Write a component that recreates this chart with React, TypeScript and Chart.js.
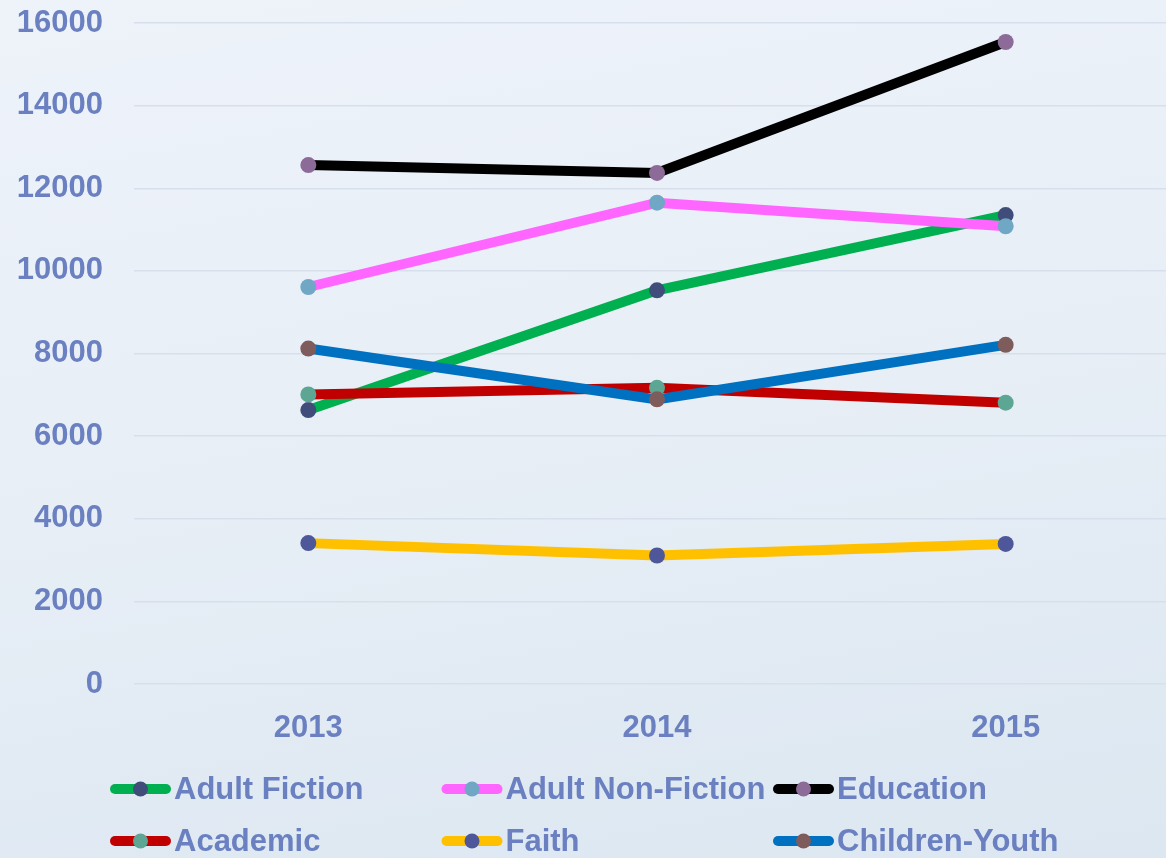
import React, { useEffect, useRef } from "react";
import { Chart, registerables } from "chart.js";

Chart.register(...registerables);

const years = ["2013", "2014", "2015"];
const seriesNames = ["Adult Fiction", "Adult Non-Fiction", "Education", "Academic", "Faith", "Children-Youth"];
const adultFiction = [6630, 9530, 11350];
const adultNonFiction = [9610, 11650, 11080];
const education = [12560, 12370, 15540];
const academic = [7010, 7170, 6810];
const faith = [3410, 3110, 3390];
const childrenYouth = [8120, 6890, 8210];
const seriesValues = [adultFiction, adultNonFiction, education, academic, faith, childrenYouth];
const lineColors = ["#00B050", "#FF66FF", "#000000", "#C00000", "#FFC000", "#0070C0"];
const pointColors = ["#404D7B", "#6FA7C5", "#8D6B98", "#5EA694", "#4E5799", "#7E5C5C"];
const yTickValues = [0, 2000, 4000, 6000, 8000, 10000, 12000, 14000, 16000];

const TEXT_COLOR = "#6B80C1";
const FONT_FAMILY = "'Liberation Sans', Arial, sans-serif";

const legendPlugin = {
  id: "gridLegend",
  afterDraw(chart: any) {
    const ctx = chart.ctx;
    ctx.save();
    chart.data.datasets.forEach((ds: any, i: number) => {
      const col = i % 3;
      const row = Math.floor(i / 3);
      const x = 110 + col * 331.5;
      const y = 789 + row * 52;
      ctx.lineCap = "round";
      ctx.lineWidth = 10;
      ctx.strokeStyle = ds.borderColor;
      ctx.beginPath();
      ctx.moveTo(x + 5, y);
      ctx.lineTo(x + 56, y);
      ctx.stroke();
      ctx.fillStyle = ds.pointBackgroundColor;
      ctx.beginPath();
      ctx.arc(x + 30.5, y, 7.5, 0, Math.PI * 2);
      ctx.fill();
      ctx.fillStyle = TEXT_COLOR;
      ctx.font = `bold 31px ${FONT_FAMILY}`;
      ctx.textAlign = "left";
      ctx.textBaseline = "middle";
      ctx.fillText(ds.label, x + 64, y + 1);
    });
    ctx.restore();
  },
};

export default function App() {
  const canvasRef = useRef<HTMLCanvasElement | null>(null);

  useEffect(() => {
    if (!canvasRef.current) return;
    const chart = new Chart(canvasRef.current, {
      type: "line",
      data: {
        labels: years,
        datasets: seriesNames.map((name, i) => ({
          label: name,
          data: seriesValues[i],
          borderColor: lineColors[i],
          backgroundColor: lineColors[i],
          pointBackgroundColor: pointColors[i],
          pointBorderWidth: 0,
          pointRadius: 8,
          pointHoverRadius: 8,
          borderWidth: 10,
          tension: 0,
          fill: false,
          order: 6 - i,
        })),
      },
      options: {
        responsive: false,
        animation: false,
        devicePixelRatio: 1,
        layout: { padding: { top: 23, left: 0, right: 0, bottom: 0 } },
        plugins: {
          legend: { display: false },
          tooltip: { enabled: false },
        },
        scales: {
          x: {
            offset: true,
            grid: { display: false, drawTicks: false },
            border: { display: false },
            ticks: {
              color: TEXT_COLOR,
              font: { family: FONT_FAMILY, size: 31, weight: "bold" },
              padding: 26,
            },
            afterFit: (scale: any) => {
              scale.height = 858 - 684;
              scale.paddingLeft = 0;
              scale.paddingRight = 0;
            },
          },
          y: {
            min: 0,
            max: 16000,
            afterBuildTicks: (scale: any) => {
              scale.ticks = yTickValues.map((v) => ({ value: v }));
            },
            grid: { color: "#D8DFEC", lineWidth: 1.5, drawTicks: false },
            border: { display: false },
            ticks: {
              color: TEXT_COLOR,
              font: { family: FONT_FAMILY, size: 31, weight: "bold" },
              padding: 31,
              callback: (v: any) => String(v),
            },
            afterFit: (scale: any) => {
              scale.width = 134;
              scale.paddingTop = 0;
              scale.paddingBottom = 0;
            },
          },
        },
      },
      plugins: [legendPlugin],
    });
    return () => chart.destroy();
  }, []);

  return (
    <div
      style={{
        position: "fixed",
        left: 0,
        top: 0,
        width: 1166,
        height: 858,
        overflow: "hidden",
        background: "linear-gradient(170deg, #EEF3FA 0%, #E7EEF6 50%, #DCE7F1 100%)",
      }}
    >
      <canvas
        ref={canvasRef}
        width={1188}
        height={858}
        style={{ position: "absolute", left: 0, top: 0, width: 1188, height: 858 }}
      />
    </div>
  );
}
